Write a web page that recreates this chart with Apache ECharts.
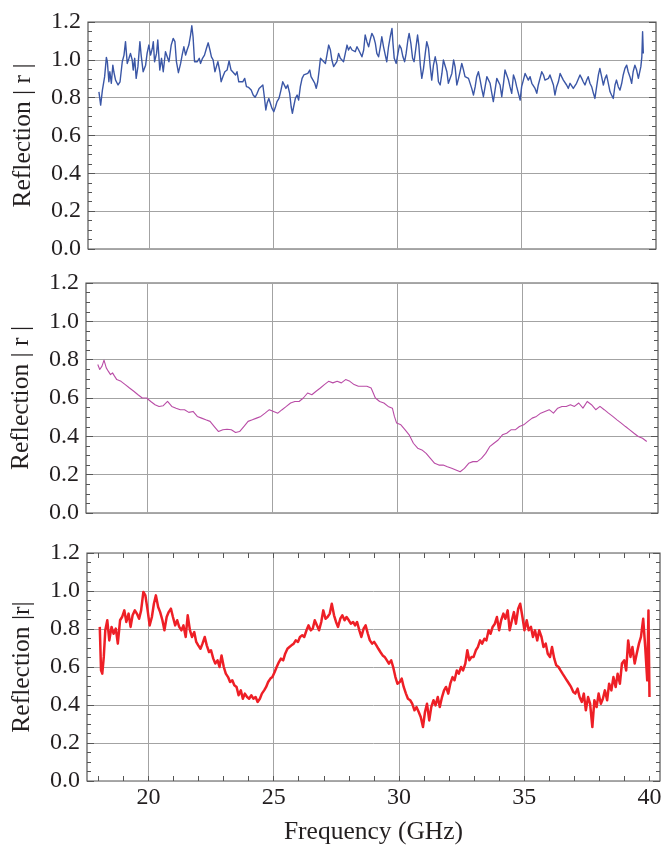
<!DOCTYPE html>
<html>
<head>
<meta charset="utf-8">
<script src="https://cdn.jsdelivr.net/npm/echarts@6/dist/echarts.min.js"></script>
<style>
html, body { margin: 0; padding: 0; background: #ffffff; }
#chart { width: 666px; height: 848px; }
</style>
</head>
<body>
<div id="chart"></div>
<script>
// Measured reflection magnitude |r| versus frequency (GHz), three samples.

const blueFreq = [17.99,18.06,18.13,18.19,18.22,18.29,18.33,18.39,18.43,18.49,18.55,18.59,18.66,18.76,18.84,18.93,19.00,19.06,19.13,19.20,19.26,19.33,19.37,19.43,19.49,19.56,19.64,19.69,19.77,19.87,19.93,20.00,20.07,20.14,20.18,20.23,20.31,20.36,20.44,20.51,20.58,20.67,20.74,20.81,20.90,20.98,21.05,21.11,21.19,21.28,21.34,21.41,21.48,21.54,21.61,21.68,21.73,21.78,21.84,21.95,22.03,22.08,22.16,22.24,22.32,22.39,22.46,22.52,22.59,22.66,22.72,22.78,22.86,22.91,22.98,23.06,23.15,23.23,23.31,23.39,23.49,23.55,23.62,23.69,23.78,23.86,23.93,24.02,24.12,24.20,24.28,24.36,24.44,24.52,24.59,24.65,24.71,24.76,24.83,24.89,24.96,25.03,25.10,25.16,25.24,25.32,25.39,25.46,25.52,25.59,25.67,25.73,25.78,25.83,25.90,25.97,26.03,26.10,26.17,26.24,26.32,26.40,26.48,26.53,26.61,26.68,26.74,26.80,26.85,26.91,27.11,27.17,27.24,27.31,27.37,27.44,27.51,27.57,27.64,27.71,27.78,27.84,27.91,27.98,28.04,28.11,28.18,28.24,28.31,28.38,28.45,28.51,28.58,28.65,28.71,28.78,28.85,28.91,28.98,29.05,29.12,29.18,29.25,29.32,29.38,29.45,29.52,29.58,29.65,29.72,29.79,29.83,29.88,29.96,30.03,30.09,30.16,30.23,30.30,30.36,30.43,30.48,30.55,30.62,30.68,30.75,30.82,30.87,30.93,30.99,31.06,31.13,31.19,31.26,31.33,31.39,31.46,31.53,31.60,31.66,31.73,31.80,31.86,31.93,32.00,32.06,32.13,32.20,32.27,32.33,32.40,32.47,32.53,32.60,32.67,32.73,32.80,32.87,32.94,33.00,33.07,33.14,33.20,33.27,33.34,33.40,33.47,33.54,33.61,33.67,33.74,33.81,33.87,33.94,34.01,34.08,34.14,34.21,34.28,34.34,34.41,34.48,34.54,34.61,34.68,34.75,34.81,34.88,34.95,35.01,35.08,35.15,35.21,35.28,35.35,35.42,35.48,35.55,35.62,35.68,35.75,35.82,35.89,35.95,36.02,36.09,36.15,36.22,36.29,36.35,36.42,36.49,36.56,36.62,36.69,36.76,36.82,36.89,36.96,37.02,37.09,37.16,37.22,37.29,37.36,37.43,37.49,37.56,37.63,37.69,37.76,37.83,37.90,37.96,38.03,38.10,38.16,38.23,38.30,38.37,38.43,38.50,38.57,38.63,38.70,38.77,38.83,38.90,38.97,39.04,39.10,39.17,39.24,39.30,39.37,39.44,39.50,39.57,39.64,39.71,39.77,39.81,39.85,39.88,39.91];
const blueRefl = [0.831,0.761,0.840,0.849,0.911,1.013,0.990,0.884,0.937,0.876,0.972,0.937,0.893,0.867,0.884,0.990,1.025,1.096,0.981,1.008,1.034,0.999,0.946,1.008,0.902,0.964,1.096,1.025,0.937,0.972,1.034,1.078,1.025,1.061,1.096,0.990,1.034,1.105,0.946,1.008,0.937,1.043,1.043,0.990,1.078,1.113,1.096,0.990,0.932,0.981,1.025,1.069,1.025,1.052,1.078,1.131,1.180,1.122,0.990,0.990,1.008,0.981,1.008,1.025,1.061,1.090,1.052,1.016,0.999,0.937,0.964,0.990,0.937,0.884,0.911,0.937,0.946,0.994,0.946,0.937,0.920,0.937,0.884,0.893,0.884,0.902,0.858,0.854,0.840,0.814,0.802,0.823,0.849,0.858,0.867,0.805,0.735,0.770,0.796,0.787,0.743,0.726,0.752,0.779,0.796,0.840,0.884,0.876,0.849,0.867,0.823,0.752,0.717,0.752,0.796,0.814,0.787,0.858,0.902,0.920,0.911,0.928,0.946,0.911,0.893,0.876,0.849,0.884,0.937,1.008,0.981,1.025,1.078,1.052,0.999,0.964,0.972,0.990,1.034,1.008,1.016,0.990,1.034,1.078,1.052,1.069,1.052,1.061,1.043,1.069,1.052,1.043,1.016,1.052,1.131,1.096,1.069,1.105,1.140,1.122,1.087,1.034,1.016,1.069,1.122,1.069,1.025,0.990,1.069,1.122,1.166,1.087,1.008,0.981,1.034,1.078,1.061,1.016,0.990,1.034,1.105,1.140,1.087,1.008,0.990,1.061,1.131,1.078,0.972,0.902,0.955,1.034,1.096,1.061,0.964,0.893,0.972,1.016,0.972,0.884,0.867,0.928,0.999,1.008,0.937,0.876,0.867,0.928,0.999,0.964,0.867,0.902,0.937,0.981,0.946,0.911,0.911,0.902,0.893,0.849,0.814,0.858,0.911,0.937,0.893,0.849,0.805,0.858,0.911,0.902,0.876,0.823,0.779,0.840,0.902,0.911,0.867,0.805,0.876,0.946,0.920,0.893,0.858,0.823,0.920,0.893,0.858,0.823,0.787,0.858,0.893,0.928,0.920,0.893,0.911,0.876,0.867,0.849,0.823,0.867,0.902,0.937,0.920,0.893,0.902,0.902,0.920,0.893,0.867,0.814,0.858,0.884,0.928,0.911,0.893,0.902,0.867,0.849,0.876,0.867,0.849,0.858,0.876,0.884,0.920,0.902,0.884,0.867,0.893,0.911,0.876,0.858,0.823,0.796,0.858,0.920,0.955,0.911,0.867,0.902,0.920,0.876,0.831,0.814,0.796,0.867,0.893,0.858,0.840,0.876,0.920,0.955,0.972,0.937,0.911,0.876,0.937,0.972,0.946,0.902,0.893,0.964,1.016,1.149,1.034];

const magentaFreq = [18.02,18.10,18.19,18.27,18.36,18.44,18.53,18.61,18.69,18.78,18.95,19.12,19.29,19.46,19.63,19.80,19.97,20.14,20.31,20.47,20.64,20.81,20.98,21.15,21.32,21.49,21.66,21.83,22.00,22.17,22.34,22.51,22.68,22.85,23.02,23.19,23.36,23.53,23.69,23.86,24.03,24.20,24.37,24.54,24.71,24.88,25.05,25.22,25.39,25.56,25.73,25.90,26.07,26.24,26.41,26.58,26.75,26.92,27.08,27.25,27.42,27.59,27.76,27.93,28.10,28.27,28.44,28.61,28.78,28.95,29.12,29.29,29.46,29.63,29.80,29.88,29.97,30.14,30.31,30.47,30.64,30.81,30.98,31.15,31.32,31.49,31.66,31.83,32.00,32.17,32.34,32.51,32.68,32.85,33.02,33.19,33.36,33.53,33.69,33.86,34.03,34.20,34.37,34.54,34.71,34.88,35.05,35.22,35.39,35.56,35.73,35.90,36.07,36.24,36.41,36.58,36.75,36.92,37.08,37.25,37.42,37.59,37.76,37.93,38.10,38.27,38.44,38.61,38.78,38.95,39.12,39.29,39.46,39.63,39.80,39.97];
const magentaRefl = [0.775,0.749,0.766,0.798,0.757,0.740,0.722,0.731,0.714,0.696,0.687,0.670,0.652,0.635,0.617,0.600,0.600,0.582,0.565,0.556,0.560,0.582,0.556,0.547,0.539,0.539,0.525,0.530,0.504,0.495,0.486,0.478,0.451,0.425,0.434,0.437,0.434,0.420,0.425,0.451,0.478,0.486,0.495,0.504,0.521,0.539,0.530,0.521,0.539,0.556,0.574,0.582,0.582,0.600,0.626,0.617,0.635,0.652,0.670,0.687,0.679,0.687,0.679,0.696,0.687,0.670,0.661,0.661,0.661,0.652,0.600,0.582,0.574,0.556,0.547,0.504,0.469,0.460,0.434,0.408,0.364,0.338,0.329,0.311,0.285,0.259,0.250,0.250,0.241,0.233,0.224,0.215,0.233,0.259,0.268,0.268,0.285,0.311,0.346,0.364,0.381,0.408,0.416,0.434,0.434,0.451,0.460,0.478,0.495,0.504,0.521,0.530,0.539,0.521,0.547,0.556,0.556,0.565,0.556,0.574,0.547,0.582,0.565,0.539,0.556,0.539,0.521,0.504,0.486,0.469,0.451,0.434,0.416,0.399,0.390,0.373];

const redFreq = [18.06,18.11,18.16,18.22,18.28,18.36,18.44,18.53,18.61,18.70,18.78,18.87,18.95,19.04,19.12,19.21,19.29,19.37,19.46,19.54,19.63,19.71,19.80,19.88,19.97,20.05,20.14,20.22,20.30,20.39,20.47,20.56,20.64,20.73,20.81,20.90,20.98,21.07,21.15,21.23,21.32,21.40,21.49,21.57,21.66,21.74,21.83,21.91,21.99,22.08,22.16,22.25,22.33,22.42,22.50,22.59,22.67,22.76,22.84,22.92,23.01,23.09,23.18,23.26,23.35,23.43,23.52,23.60,23.69,23.77,23.85,23.94,24.02,24.11,24.19,24.28,24.36,24.45,24.53,24.62,24.70,24.78,24.87,24.95,25.04,25.12,25.21,25.29,25.38,25.46,25.55,25.63,25.71,25.80,25.88,25.97,26.05,26.14,26.22,26.31,26.39,26.48,26.56,26.64,26.73,26.81,26.90,26.98,27.07,27.15,27.24,27.32,27.41,27.49,27.57,27.66,27.74,27.83,27.91,28.00,28.08,28.17,28.25,28.33,28.42,28.50,28.59,28.67,28.76,28.84,28.93,29.01,29.10,29.18,29.26,29.35,29.43,29.52,29.60,29.69,29.77,29.86,29.94,30.03,30.11,30.19,30.28,30.36,30.45,30.53,30.62,30.70,30.79,30.87,30.96,31.04,31.12,31.21,31.29,31.38,31.46,31.55,31.63,31.72,31.80,31.88,31.97,32.05,32.14,32.22,32.31,32.39,32.48,32.56,32.65,32.73,32.81,32.90,32.98,33.07,33.15,33.24,33.32,33.41,33.49,33.58,33.66,33.74,33.83,33.91,34.00,34.08,34.17,34.25,34.34,34.42,34.51,34.59,34.67,34.76,34.84,34.93,35.01,35.10,35.18,35.27,35.35,35.43,35.52,35.60,35.69,35.77,35.86,35.94,36.03,36.11,36.20,36.28,36.37,36.45,36.53,36.62,36.70,36.79,36.87,36.96,37.04,37.13,37.21,37.30,37.38,37.46,37.55,37.63,37.72,37.80,37.89,37.97,38.06,38.14,38.22,38.31,38.39,38.48,38.56,38.65,38.73,38.82,38.90,38.99,39.07,39.15,39.24,39.32,39.41,39.49,39.58,39.66,39.75,39.83,39.91,39.96,40.00];
const redRefl = [0.811,0.582,0.565,0.653,0.793,0.846,0.740,0.811,0.775,0.802,0.723,0.846,0.863,0.898,0.837,0.881,0.811,0.872,0.898,0.881,0.854,0.898,0.995,0.977,0.898,0.819,0.863,0.933,0.977,0.916,0.889,0.846,0.793,0.863,0.889,0.907,0.863,0.819,0.846,0.811,0.793,0.819,0.758,0.872,0.793,0.758,0.784,0.732,0.714,0.696,0.723,0.758,0.714,0.679,0.688,0.644,0.618,0.635,0.600,0.661,0.600,0.565,0.547,0.521,0.530,0.504,0.495,0.451,0.477,0.433,0.460,0.442,0.433,0.451,0.433,0.442,0.416,0.433,0.460,0.477,0.495,0.521,0.539,0.547,0.574,0.600,0.626,0.644,0.635,0.670,0.696,0.705,0.714,0.723,0.740,0.732,0.758,0.767,0.758,0.793,0.819,0.793,0.802,0.846,0.819,0.793,0.837,0.898,0.854,0.863,0.881,0.933,0.872,0.837,0.811,0.854,0.872,0.846,0.863,0.846,0.828,0.837,0.819,0.837,0.793,0.758,0.802,0.819,0.775,0.740,0.723,0.732,0.714,0.696,0.679,0.661,0.653,0.635,0.618,0.635,0.600,0.547,0.512,0.521,0.539,0.495,0.460,0.433,0.425,0.407,0.372,0.389,0.363,0.337,0.284,0.363,0.407,0.319,0.389,0.425,0.398,0.442,0.389,0.442,0.477,0.495,0.460,0.512,0.547,0.530,0.582,0.565,0.600,0.582,0.618,0.688,0.635,0.653,0.653,0.688,0.705,0.740,0.723,0.749,0.740,0.793,0.775,0.811,0.828,0.863,0.793,0.846,0.881,0.854,0.898,0.793,0.846,0.889,0.828,0.907,0.933,0.863,0.793,0.846,0.793,0.811,0.758,0.793,0.740,0.793,0.758,0.705,0.723,0.670,0.653,0.705,0.644,0.609,0.600,0.582,0.565,0.547,0.530,0.512,0.495,0.468,0.460,0.486,0.442,0.416,0.460,0.372,0.442,0.407,0.284,0.425,0.389,0.460,0.407,0.433,0.477,0.425,0.512,0.477,0.547,0.495,0.565,0.512,0.618,0.635,0.582,0.740,0.653,0.705,0.618,0.670,0.723,0.758,0.854,0.705,0.530,0.898,0.442];

// Axis settings
const freqMin = 17.55, freqMax = 40.42;
const freqLabelValues = [20, 25, 30, 35, 40];
const freqGridValues = [20, 25, 30, 35];
const freqTickValues = [18, 19, 20, 21, 22, 23, 24, 25, 26, 27, 28, 29, 30, 31, 32, 33, 34, 35, 36, 37, 38, 39, 40];
const reflMin = 0, reflMax = 1.2, reflStep = 0.2;

const panels = [
  { name: 'Reflection | r |', freq: blueFreq, refl: blueRefl, color: '#3a56a6', width: 1.4, box: { left: 88, top: 22, width: 568, height: 227 }, freqAxis: false },
  { name: 'Reflection | r |', freq: magentaFreq, refl: magentaRefl, color: '#b94ca6', width: 1.1, box: { left: 84, top: 283, width: 574, height: 230 }, freqAxis: false },
  { name: 'Reflection |r|', freq: redFreq, refl: redRefl, color: '#ee1f26', width: 2.5, box: { left: 87, top: 553, width: 573, height: 228 }, freqAxis: true }
];

const FONT = '"Liberation Serif", "Times New Roman", serif';
const TEXT = '#231f20';
const FRAME = '#555555';
const GRID = '#a3a3a3';

const grid = [], xAxis = [], yAxis = [], series = [];

panels.forEach((p, i) => {
  grid.push(Object.assign({ show: true, borderColor: FRAME, borderWidth: 1.2, backgroundColor: '#ffffff' }, p.box));

  // bottom frequency axis (labels and ticks only on the last panel)
  const mainX = xAxis.length;
  xAxis.push({
    gridIndex: i, type: 'value', position: 'bottom', min: freqMin, max: freqMax,
    axisLine: { show: false },
    axisTick: p.freqAxis ? { show: true, inside: true, length: 5, customValues: freqTickValues, lineStyle: { color: FRAME, width: 1 } } : { show: false },
    axisLabel: p.freqAxis ? { show: true, customValues: freqLabelValues, fontFamily: FONT, fontSize: 24, color: TEXT, margin: 5 } : { show: false },
    splitLine: { show: false },
    name: p.freqAxis ? 'Frequency (GHz)' : '', nameLocation: 'middle', nameGap: 38,
    nameTextStyle: { fontFamily: FONT, fontSize: 25.5, color: TEXT }
  });
  // vertical grid lines
  xAxis.push({
    gridIndex: i, type: 'value', position: 'bottom', min: freqMin, max: freqMax,
    axisLine: { show: false },
    axisTick: { show: false, customValues: freqGridValues },
    axisLabel: { show: false },
    splitLine: { show: true, lineStyle: { color: GRID, width: 1 } }
  });
  if (p.freqAxis) {
    xAxis.push({
      gridIndex: i, type: 'value', position: 'top', min: freqMin, max: freqMax,
      axisLine: { show: false },
      axisTick: { show: true, inside: true, length: 5, customValues: freqTickValues, lineStyle: { color: FRAME, width: 1 } },
      axisLabel: { show: false },
      splitLine: { show: false }
    });
  }

  const mainY = yAxis.length;
  yAxis.push({
    gridIndex: i, type: 'value', position: 'left', min: reflMin, max: reflMax, interval: reflStep,
    axisLine: { show: false },
    axisTick: { show: true, inside: true, length: 7, lineStyle: { color: FRAME } },
    minorTick: { show: true, splitNumber: 4, length: 4, lineStyle: { color: FRAME } },
    axisLabel: { formatter: v => v.toFixed(1), fontFamily: FONT, fontSize: 24, color: TEXT, margin: 7 },
    splitLine: { show: true, lineStyle: { color: GRID, width: 1 } },
    name: p.name, nameLocation: 'middle', nameRotate: 90, nameGap: 52,
    nameTextStyle: { fontFamily: FONT, fontSize: 25.5, color: TEXT }
  });
  yAxis.push({
    gridIndex: i, type: 'value', position: 'right', min: reflMin, max: reflMax, interval: reflStep,
    axisLine: { show: false },
    axisTick: { show: true, inside: true, length: 7, lineStyle: { color: FRAME } },
    minorTick: { show: true, splitNumber: 4, length: 4, lineStyle: { color: FRAME } },
    axisLabel: { show: false },
    splitLine: { show: false }
  });

  series.push({
    type: 'line', xAxisIndex: mainX, yAxisIndex: mainY,
    data: p.freq.map((f, k) => [f, p.refl[k]]),
    showSymbol: false, symbol: 'none', smooth: false, clip: true,
    lineStyle: { color: p.color, width: p.width, join: 'round' },
    z: 5
  });
});

const chart = echarts.init(document.getElementById('chart'), null, { renderer: 'canvas' });
chart.setOption({ animation: false, backgroundColor: '#ffffff', grid, xAxis, yAxis, series });
</script>
</body>
</html>
